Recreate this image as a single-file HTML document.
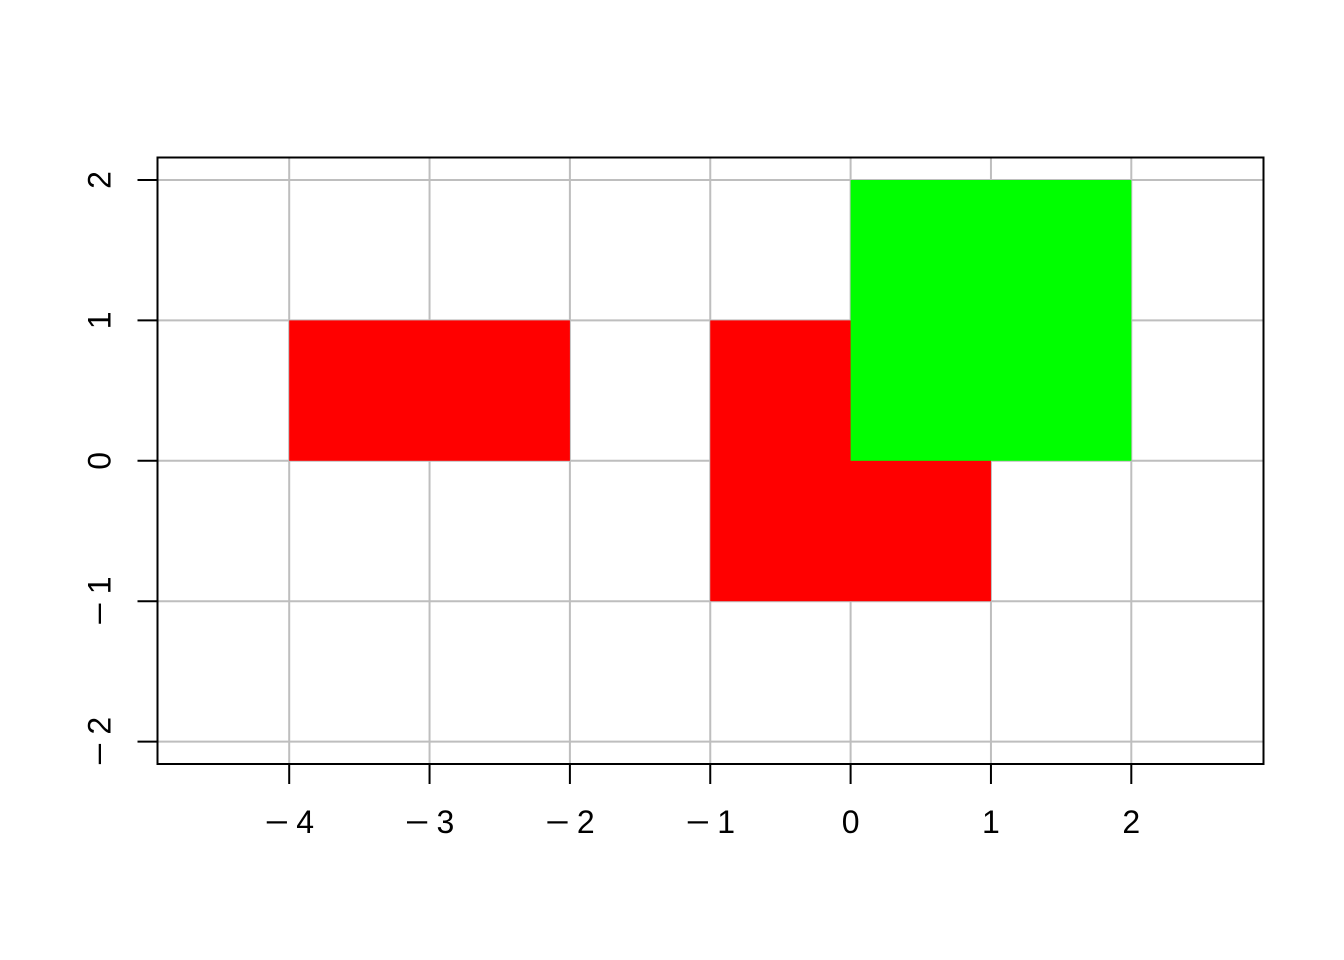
<!DOCTYPE html>
<html>
<head>
<meta charset="utf-8">
<title>Rectangles chart</title>
<style>
html,body{margin:0;padding:0;background:#fff;}
svg{display:block;}
text{font-family:"Liberation Sans",sans-serif;font-size:32px;fill:#000;}
</style>
</head>
<body>
<svg id="chart" width="1344" height="960" viewBox="0 0 1344 960" xmlns="http://www.w3.org/2000/svg"></svg>
<script>
const xTicks = [-4, -3, -2, -1, 0, 1, 2];
const yTicks = [-2, -1, 0, 1, 2];
const rectXLeft = [-4, -1, 0];
const rectXRight = [-2, 1, 2];
const rectYBottom = [0, -1, 0];
const rectYTop = [1, 1, 2];
const rectColors = ['#ff0000', '#ff0000', '#00ff00'];

const plotLeft = 157.5, plotRight = 1263.5, plotTop = 157.5, plotBottom = 764;
function sx(v) { return 289.2 + (v + 4) * 140.35; }
function sy(v) { return 180 + (2 - v) * 140.4; }

const svg = document.getElementById('chart');
const NS = 'http://www.w3.org/2000/svg';
function make(tag, attrs, parent) {
  const el = document.createElementNS(NS, tag);
  for (const k in attrs) el.setAttribute(k, attrs[k]);
  (parent || svg).appendChild(el);
  return el;
}
function drawLine(x1, y1, x2, y2, stroke, width) {
  return make('line', { x1: x1, y1: y1, x2: x2, y2: y2, stroke: stroke, 'stroke-width': width });
}

// Background
const bg = make('rect', { x: 0, y: 0, width: 1344, height: 960, fill: '#ffffff' });



// Grid
xTicks.forEach(function (t) {
  const g = drawLine(sx(t), plotTop, sx(t), plotBottom, '#bebebe', 2);
  
  
});
yTicks.forEach(function (t) {
  const g = drawLine(plotLeft, sy(t), plotRight, sy(t), '#bebebe', 2);
  
  
});

// Rectangles
rectColors.forEach(function (c, i) {
  const r = make('rect', {
    x: sx(rectXLeft[i]),
    y: sy(rectYTop[i]),
    width: sx(rectXRight[i]) - sx(rectXLeft[i]),
    height: sy(rectYBottom[i]) - sy(rectYTop[i]),
    fill: c
  });
  
  
});

// Plot box
const box = make('rect', {
  x: plotLeft, y: plotTop, width: plotRight - plotLeft, height: plotBottom - plotTop,
  fill: 'none', stroke: '#000000', 'stroke-width': 2
});



// Label in local coordinates, centred on the tick
function drawLabel(value, transform, name) {
  const g = make('g', { transform: transform });
  
  
  const abs = Math.abs(value);
  if (value < 0) {
    make('text', { transform: 'translate(-24.5,0) scale(1.3,1)' }, g).textContent = '\u2212';
    make('text', { x: 7 }, g).textContent = String(abs);
  } else {
    make('text', { x: 0, 'text-anchor': 'middle' }, g).textContent = String(abs);
  }
}

// X axis ticks
xTicks.forEach(function (t) {
  const k = drawLine(sx(t), plotBottom, sx(t), plotBottom + 20, '#000000', 2);
  
  
  drawLabel(t, 'translate(' + sx(t) + ',833)', 'x-tick-label');
});

// Y axis ticks
yTicks.forEach(function (t) {
  const k = drawLine(plotLeft - 20, sy(t), plotLeft, sy(t), '#000000', 2);
  
  
  drawLabel(t, 'translate(110.5,' + sy(t) + ') rotate(-90)', 'y-tick-label');
});
</script>
</body>
</html>
